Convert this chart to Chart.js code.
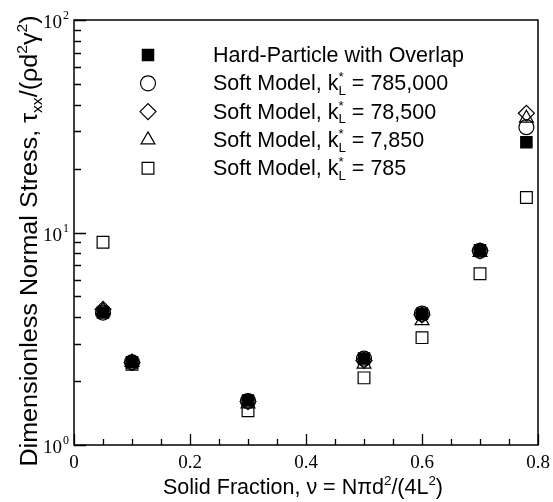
<!DOCTYPE html>
<html>
<head>
<meta charset="utf-8">
<script src="https://cdn.jsdelivr.net/npm/chart.js@4.4.1/dist/chart.umd.min.js"></script>
<style>
html, body { margin: 0; padding: 0; background: #fff; }
</style>
</head>
<body>
<canvas id="stressChart" width="553" height="502"></canvas>
<script>
// solid fraction values and dimensionless normal stress
const fractions = [0.05, 0.1, 0.3, 0.5, 0.6, 0.7, 0.78];
const hardParticle = [4.2, 2.45, 1.62, 2.55, 4.15, 8.25, 26.6];
const soft785000 = [4.2, 2.45, 1.61, 2.55, 4.15, 8.2, 31.3];
const soft78500 = [4.35, 2.45, 1.6, 2.5, 4.1, 8.2, 36.4];
const soft7850 = [4.3, 2.45, 1.56, 2.4, 3.85, 8.05, 34.5];
const soft785 = [9.0, 2.4, 1.45, 2.07, 3.2, 6.4, 14.6];
const stiffnessLabels = ['785,000', '78,500', '7,850', '785'];
const xTickValues = [0, 0.2, 0.4, 0.6, 0.8];
const xTickLabels = ['0', '0.2', '0.4', '0.6', '0.8'];
const yTickValues = [1, 10, 100];
const yTickExponents = ['0', '1', '2'];

const SANS = '"Liberation Sans", Arial, Helvetica, sans-serif';
const SERIF = '"Liberation Serif", "Times New Roman", serif';

const toPoints = ys => fractions.map((x, i) => ({ x: x, y: ys[i] }));

const seriesDefs = [
    { data: hardParticle, style: 'rect', radius: 8, filled: true },
    { data: soft785000, style: 'circle', radius: 7.5, filled: false },
    { data: soft78500, style: 'rectRot', radius: 8, filled: false },
    { data: soft7850, style: 'triangle', radius: 8, filled: false },
    { data: soft785, style: 'rect', radius: 8.3, filled: false }
];

// draw text made of pieces: plain, sup, sub, or stacked sup+sub
function richWidth(ctx, parts, size) {
    let w = 0;
    parts.forEach(p => {
        if (p.sup !== undefined || p.sub !== undefined) {
            ctx.font = `${size * 0.62}px ${SANS}`;
            const a = p.sup !== undefined ? ctx.measureText(p.sup).width : 0;
            const b = p.sub !== undefined ? ctx.measureText(p.sub).width : 0;
            w += Math.max(a, b);
        } else {
            ctx.font = `${size}px ${SANS}`;
            w += ctx.measureText(p.t).width;
        }
    });
    return w;
}
function drawRich(ctx, parts, x, y, size) {
    let cx = x;
    ctx.textAlign = 'left';
    ctx.textBaseline = 'alphabetic';
    parts.forEach(p => {
        if (p.sup !== undefined || p.sub !== undefined) {
            ctx.font = `${size * 0.62}px ${SANS}`;
            let w = 0;
            if (p.sup !== undefined) {
                ctx.fillText(p.sup, cx, y - size * 0.42);
                w = ctx.measureText(p.sup).width;
            }
            if (p.sub !== undefined) {
                ctx.fillText(p.sub, cx, y + size * 0.22);
                w = Math.max(w, ctx.measureText(p.sub).width);
            }
            cx += w;
        } else {
            ctx.font = `${size}px ${SANS}`;
            ctx.fillText(p.t, cx, y);
            cx += ctx.measureText(p.t).width;
        }
    });
}

const framePlugin = {
    id: 'frame',
    beforeDatasetsDraw(chart) {
        const { ctx, chartArea: a, scales } = chart;
        ctx.save();
        ctx.strokeStyle = '#000';
        ctx.lineWidth = 1.5;
        ctx.strokeRect(a.left, a.top, a.right - a.left, a.bottom - a.top);
        ctx.lineWidth = 1.3;
        ctx.beginPath();
        // x ticks, inward from the bottom axis
        for (let i = 0; i <= 16; i++) {
            const v = i * 0.05;
            const px = Math.round(scales.x.getPixelForValue(v)) + 0.5;
            const len = i % 4 === 0 ? 11 : 6;
            ctx.moveTo(px, a.bottom);
            ctx.lineTo(px, a.bottom - len);
        }
        // y ticks, inward from the left axis
        for (let d = 1; d < 100; d *= 10) {
            for (let m = 1; m <= 10; m++) {
                const py = Math.round(scales.y.getPixelForValue(d * m)) + 0.5;
                const len = (m === 1 || m === 10) ? 12 : 7;
                ctx.moveTo(a.left, py);
                ctx.lineTo(a.left + len, py);
            }
        }
        ctx.stroke();
        ctx.restore();
    },
    afterDraw(chart) {
        const { ctx, chartArea: a, scales } = chart;
        ctx.save();
        ctx.fillStyle = '#000';
        // x tick labels
        ctx.font = `19px ${SERIF}`;
        ctx.textAlign = 'center';
        ctx.textBaseline = 'alphabetic';
        xTickValues.forEach((v, i) => {
            ctx.fillText(xTickLabels[i], scales.x.getPixelForValue(v), a.bottom + 23);
        });
        // y tick labels 10^n
        yTickValues.forEach((v, i) => {
            const py = scales.y.getPixelForValue(v);
            ctx.font = `19px ${SERIF}`;
            ctx.textAlign = 'right';
            ctx.fillText('10', 62, py + 8);
            ctx.font = `12px ${SERIF}`;
            ctx.textAlign = 'left';
            ctx.fillText(yTickExponents[i], 63, py - 1);
        });
        // x axis title
        const xParts = [{ t: 'Solid Fraction, ν = Nπd' }, { sup: '2' }, { t: '/(4L' }, { sup: '2' }, { t: ')' }];
        const xs = 21.5;
        const xw = richWidth(ctx, xParts, xs);
        drawRich(ctx, xParts, 303 - xw / 2, 494, xs);
        // y axis title, rotated and a little stretched along its length
        const yParts = [{ t: 'Dimensionless Normal Stress, τ' }, { sub: 'xx' }, { t: '/(ρd' }, { sup: '2' }, { t: 'γ' }, { sup: '2' }, { t: ')' }];
        const ys = 23.5;
        const yw = richWidth(ctx, yParts, ys);
        ctx.save();
        ctx.translate(37, 241);
        ctx.rotate(-Math.PI / 2);
        ctx.scale(1.07, 1);
        drawRich(ctx, yParts, -yw / 2, 0, ys);
        ctx.restore();
        // legend
        const legendTop = 55;
        const rowGap = 28.3;
        seriesDefs.forEach((s, i) => {
            const cy = legendTop + i * rowGap;
            ctx.fillStyle = s.filled ? '#000' : 'rgba(0,0,0,0)';
            ctx.strokeStyle = '#000';
            ctx.lineWidth = 1.2;
            Chart.helpers.drawPoint(ctx, { pointStyle: s.style, radius: s.radius, rotation: 0, borderWidth: 1.2 }, 148, cy);
            ctx.fillStyle = '#000';
            const parts = i === 0
                ? [{ t: 'Hard-Particle with Overlap' }]
                : [{ t: 'Soft Model, k' }, { sup: '*', sub: 'L' }, { t: ' = ' + stiffnessLabels[i - 1] }];
            drawRich(ctx, parts, 213, cy + 7, 21.5);
        });
        ctx.restore();
    }
};

new Chart(document.getElementById('stressChart').getContext('2d'), {
    type: 'scatter',
    data: {
        datasets: seriesDefs.map(s => ({
            data: toPoints(s.data),
            pointStyle: s.style,
            pointRadius: s.radius,
            pointHoverRadius: s.radius,
            borderColor: '#000',
            backgroundColor: s.filled ? '#000' : 'rgba(0,0,0,0)',
            borderWidth: 1.2,
            showLine: false
        }))
    },
    options: {
        responsive: false,
        animation: false,
        devicePixelRatio: 1,
        layout: { padding: { top: 20, right: 15, left: 0, bottom: 0 } },
        plugins: { legend: { display: false }, tooltip: { enabled: false } },
        scales: {
            x: {
                type: 'linear',
                min: 0,
                max: 0.8,
                grid: { display: false },
                border: { display: false },
                ticks: { display: false },
                afterFit: s => { s.height = 57; }
            },
            y: {
                type: 'logarithmic',
                min: 1,
                max: 100,
                grid: { display: false },
                border: { display: false },
                ticks: { display: false },
                afterFit: s => { s.width = 74; }
            }
        }
    },
    plugins: [framePlugin]
});
</script>
</body>
</html>
